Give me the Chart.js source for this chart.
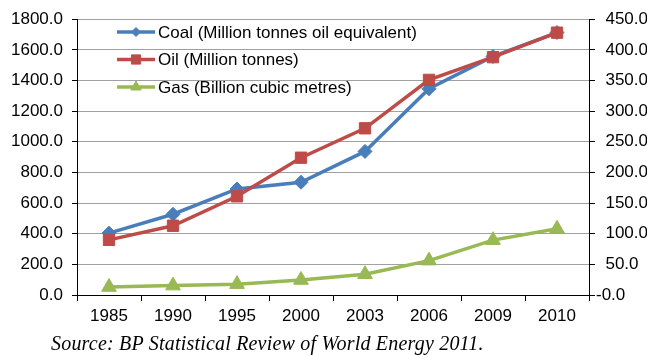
<!DOCTYPE html>
<html>
<head>
<meta charset="utf-8">
<script src="https://cdn.jsdelivr.net/npm/chart.js@4.4.1/dist/chart.umd.min.js"></script>
<style>
  html, body { margin: 0; padding: 0; background: #fff; }
  #wrap { position: relative; width: 647px; height: 355px; }
  #source {
    position: absolute; left: 51px; top: 333px;
    font-family: "Liberation Serif", "Times New Roman", serif;
    font-style: italic; font-size: 20px; line-height: 20px; letter-spacing: 0.2px;
    color: #000; white-space: nowrap;
  }
</style>
</head>
<body>
<div id="wrap">
  <canvas id="energyChart" width="647" height="355"></canvas>
  <div id="source">Source: BP Statistical Review of World Energy 2011.</div>
</div>
<script>
// data
const years = ['1985', '1990', '1995', '2000', '2003', '2006', '2009', '2010'];
const coal = [404, 527, 692, 736, 937, 1346, 1557, 1713];   // left axis
const oil = [90, 113, 161, 224, 272, 351, 388, 428];          // right axis
const gas = [13.0, 15.3, 17.7, 24.5, 33.9, 56.1, 89.5, 108.0]; // right axis

const seriesNames = ['Coal (Million tonnes oil equivalent)', 'Oil (Million tonnes)', 'Gas (Billion cubic metres)'];
const leftTicks = [0, 1800, 200];
const rightTicks = [0, 450, 50];

const FONT = { family: '"Liberation Sans", Arial, sans-serif', size: 17 };

// legend drawn inside the plot, top left
const insideLegend = {
  id: 'insideLegend',
  afterDraw(chart) {
    const ctx = chart.ctx;
    const sizes = [4.5, 6.5, 6];
    ctx.save();
    chart.data.datasets.forEach(function (ds, i) {
      const y = 32 + i * 27.5;
      ctx.strokeStyle = ds.borderColor;
      ctx.lineWidth = 3.5;
      ctx.beginPath();
      ctx.moveTo(117, y);
      ctx.lineTo(155, y);
      ctx.stroke();
      ctx.fillStyle = ds.borderColor;
      ctx.lineWidth = 1;
      Chart.helpers.drawPoint(ctx, { pointStyle: ds.pointStyle, radius: sizes[i], rotation: 0, borderWidth: 1 }, 136, y);
      ctx.fillStyle = '#000';
      ctx.font = FONT.size + 'px ' + FONT.family;
      ctx.textAlign = 'left';
      ctx.textBaseline = 'middle';
      ctx.fillText(ds.label, 158, y + 1);
    });
    ctx.restore();
  }
};

new Chart(document.getElementById('energyChart'), {
  type: 'line',
  data: {
    labels: years,
    datasets: [
      {
        label: seriesNames[0], data: coal, yAxisID: 'y', order: 2,
        borderColor: '#4A7EBB', backgroundColor: '#4A7EBB', borderWidth: 3.5,
        pointStyle: 'rectRot', pointRadius: 7, pointBorderWidth: 1
      },
      {
        label: seriesNames[1], data: oil, yAxisID: 'y1', order: 1,
        borderColor: '#BE4B48', backgroundColor: '#BE4B48', borderWidth: 3.5,
        pointStyle: 'rect', pointRadius: 8, pointBorderWidth: 1
      },
      {
        label: seriesNames[2], data: gas, yAxisID: 'y1', order: 3,
        borderColor: '#98B954', backgroundColor: '#98B954', borderWidth: 3.5,
        pointStyle: 'triangle', pointRadius: 8.5, pointBorderWidth: 1
      }
    ]
  },
  options: {
    responsive: false,
    animation: false,
    devicePixelRatio: 1,
    layout: { padding: { top: 15, bottom: 30, left: 0, right: 0 } },
    plugins: {
      legend: { display: false },
      tooltip: { enabled: false }
    },
    scales: {
      x: {
        offset: true,
        grid: { offset: true, drawOnChartArea: false, drawTicks: true, tickLength: 6, tickColor: '#000' },
        border: { display: true, color: '#000', width: 1 },
        ticks: { color: '#000', font: FONT, padding: 5, maxRotation: 0 },
        afterFit: function (s) { s.height = 30; }
      },
      y: {
        position: 'left',
        min: leftTicks[0], max: leftTicks[1],
        ticks: {
          stepSize: leftTicks[2], color: '#000', font: FONT, padding: 9,
          callback: function (v) { return v.toFixed(1); }
        },
        grid: { color: '#A0A0A0', lineWidth: 1, tickLength: 5, tickColor: '#000' },
        border: { display: true, color: '#000', width: 1 },
        afterFit: function (s) { s.width = 77; }
      },
      y1: {
        position: 'right',
        min: rightTicks[0], max: rightTicks[1],
        ticks: {
          stepSize: rightTicks[2], color: '#000', font: FONT, padding: 1,
          callback: function (v) { return v === 0 ? '-0.0' : '  ' + v.toFixed(1); }
        },
        grid: { drawOnChartArea: false, tickLength: 6, tickColor: '#000' },
        border: { display: true, color: '#000', width: 1 },
        afterFit: function (s) { s.width = 58; }
      }
    }
  },
  plugins: [insideLegend]
});
</script>
</body>
</html>
